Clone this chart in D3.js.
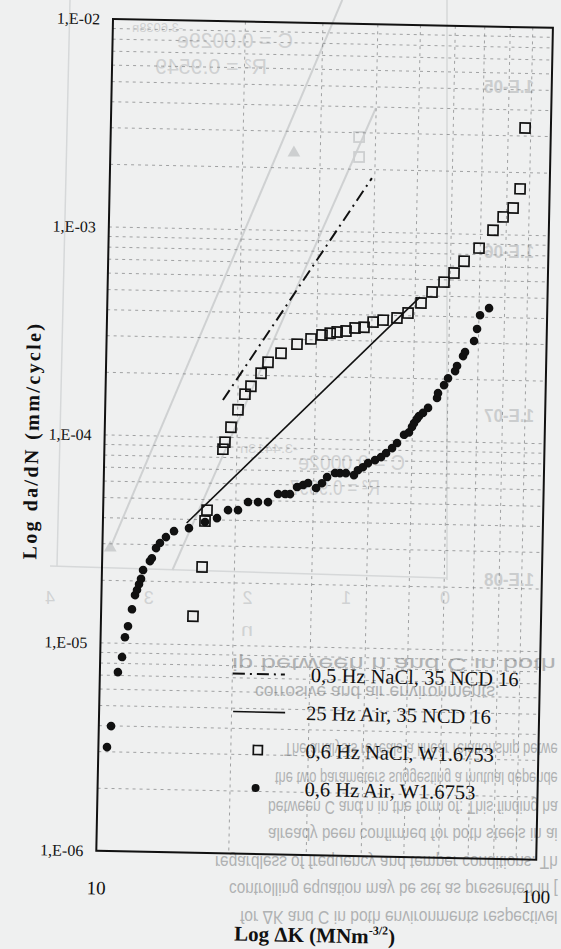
<!DOCTYPE html>
<html>
<head>
<meta charset="utf-8">
<script src="https://cdn.jsdelivr.net/npm/d3@7"></script>
<style>
  body { margin: 0; background: #eff0f0; }
  svg { display: block; }
</style>
</head>
<body>
<svg id="chart" width="561" height="949"></svg>
<script>
// 0,6 Hz NaCl, W1.6753 (open squares)
var naclK = [16.18,16.88,17.06,17.22,18.60,18.78,19.35,20.04,20.75,21.39,22.52,23.33,24.95,27.10,29.14,30.85,32.19,33.38,34.97,36.65,38.41,40.25,42.41,45.60,48.28,51.63,54.63,58.10,61.16,64.38,69.54,74.67,78.61,82.76,85.66,87.36];
var naclRate = [1.37e-5,2.37e-5,3.94e-5,4.45e-5,8.77e-5,9.48e-5,1.12e-4,1.36e-4,1.62e-4,1.77e-4,2.05e-4,2.32e-4,2.57e-4,2.85e-4,3.03e-4,3.17e-4,3.24e-4,3.29e-4,3.33e-4,3.45e-4,3.49e-4,3.70e-4,3.79e-4,3.89e-4,4.12e-4,4.62e-4,5.23e-4,5.85e-4,6.48e-4,7.41e-4,8.59e-4,1.05e-3,1.22e-3,1.35e-3,1.67e-3,3.28e-3];

// 0,6 Hz Air, W1.6753 (filled dots)
var airK = [10.46,10.66,10.99,11.21,11.36,11.53,11.75,11.92,12.04,12.16,12.28,12.40,12.84,12.97,13.24,13.51,13.93,14.52,15.70,17.06,18.16,19.22,20.25,21.32,22.46,23.67,24.93,25.86,26.54,27.51,28.38,29.13,30.39,31.34,32.16,33.51,34.40,35.48,37.01,37.77,38.76,39.79,41.26,42.56,43.68,45.05,46.21,47.89,49.14,49.89,50.40,51.17,51.69,52.77,54.15,56.70,56.97,58.74,59.94,62.14,62.75,64.68,65.33,68.41,69.41,70.40,73.75];
var airRate = [3.16e-6,3.99e-6,7.26e-6,8.59e-6,1.07e-5,1.21e-5,1.46e-5,1.71e-5,1.81e-5,1.93e-5,2.05e-5,2.26e-5,2.50e-5,2.58e-5,2.89e-5,3.06e-5,3.27e-5,3.50e-5,3.63e-5,3.90e-5,4.08e-5,4.47e-5,4.48e-5,4.91e-5,4.92e-5,4.93e-5,5.40e-5,5.41e-5,5.41e-5,5.86e-5,6.00e-5,6.14e-5,5.82e-5,6.15e-5,6.59e-5,6.90e-5,6.90e-5,6.91e-5,6.77e-5,7.16e-5,7.41e-5,7.76e-5,8.03e-5,8.32e-5,8.71e-5,9.21e-5,9.75e-5,1.07e-4,1.10e-4,1.17e-4,1.22e-4,1.28e-4,1.32e-4,1.37e-4,1.45e-4,1.62e-4,1.71e-4,1.87e-4,2.02e-4,2.19e-4,2.32e-4,2.59e-4,2.71e-4,3.07e-4,3.51e-4,4.09e-4,4.43e-4];

// 35 NCD 16 fitted lines (end points)
var ncdNaclK = [18.5, 39.4], ncdNaclRate = [1.51e-4, 1.82e-3];
var ncdAirK = [15.5, 51.3], ncdAirRate = [3.84e-5, 4.93e-4];

var yTicks = [1e-2, 1e-3, 1e-4, 1e-5, 1e-6];
var yTickLabels = ["1,E-02", "1,E-03", "1,E-04", "1,E-05", "1,E-06"];
var xTicks = [10, 100];
var xTickLabels = ["10", "100"];
var legendLabels = ["0,5 Hz NaCl, 35 NCD 16", "25 Hz Air, 35 NCD 16", "0,6 Hz NaCl, W1.6753", "0,6 Hz Air, W1.6753"];

// show-through from the other side of the scanned sheet
var ghostN = [4, 3, 2, 1, 0];
var ghostCTicks = [1e-5, 1e-6, 1e-7, 1e-8];
var ghostCLabels = ["1.E-05", "1.E-06", "1.E-07", "1.E-08"];
var ghostLineAN = [3.39, 1.04], ghostLineAC = [1.57e-8, 3.39e-5];
var ghostLineBN = [2.76, 0.70], ghostLineBC = [1.15e-8, 7.45e-6];
var ghostTriN = [3.39, 1.53], ghostTriC = [1.57e-8, 3.98e-6];
var ghostSqN = [0.87, 0.87], ghostSqC = [4.96e-6, 3.75e-6];
var ghostLines = [
  ["ip between n and C in both", 232, 556, 664],
  ["corrosive and air environments.", 255, 500, 693],
  ["The analysis reveals a linear relationship betwe", 284, 558, 750],
  ["the two parameters suggesting a mutual depende", 275, 558, 779],
  ["between C and n in the form of:  This finding ha", 268, 558, 807],
  ["already  been  confirmed  for  both  steels  in  ai", 268, 558, 835],
  ["regardless of frequency and temper conditions. Th", 215, 558, 863],
  ["controlling equation may be set as presented in [", 229, 558, 890],
  ["for ΔK and C in both environments respectivel", 240, 558, 918]
];

var W = 440, H = 832;
var serif = "'Liberation Serif', 'Times New Roman', serif";
var sans = "'Liberation Sans', Arial, sans-serif";

var svg = d3.select("#chart");
svg.append("rect").attr("width", 561).attr("height", 949).attr("fill", "#eff0f0");

// ---- ghost layer ----
var ghost = svg.append("g");
var gx = d3.scaleLinear().domain([4, 0]).range([50, 445]);
var gy = d3.scaleLog().domain([1e-8, 1e-5]).range([580, 87]);
var ghostGray = "#d6d8d9";

ghost.append("line").attr("x1", gx(4)).attr("x2", gx(0) + 2)
  .attr("y1", 566).attr("y2", 578).attr("stroke", ghostGray).attr("stroke-width", 1.5);
ghost.append("line").attr("x1", gx(0) + 2).attr("x2", gx(0) + 2)
  .attr("y1", 0).attr("y2", 580).attr("stroke", ghostGray).attr("stroke-width", 1.5);
ghost.append("line").attr("x1", 70).attr("x2", 57)
  .attr("y1", 0).attr("y2", 566).attr("stroke", ghostGray).attr("stroke-width", 1.5);

var gline = d3.line().x(d => gx(d[0])).y(d => gy(d[1]));
[[ghostLineAN, ghostLineAC], [ghostLineBN, ghostLineBC]].forEach(function(p) {
  ghost.append("path").attr("d", gline(d3.zip(p[0], p[1])))
    .attr("fill", "none").attr("stroke", "#cfd1d2").attr("stroke-width", 2);
});
ghost.selectAll(".gtri").data(d3.zip(ghostTriN, ghostTriC)).join("path")
  .attr("d", d3.symbol(d3.symbolTriangle, 70))
  .attr("transform", d => "translate(" + gx(d[0]) + "," + gy(d[1]) + ")")
  .attr("fill", "#cdcfd0");
ghost.selectAll(".gsq").data(d3.zip(ghostSqN, ghostSqC)).join("rect")
  .attr("x", d => gx(d[0]) - 5).attr("y", d => gy(d[1]) - 5)
  .attr("width", 10).attr("height", 10)
  .attr("fill", "none").attr("stroke", "#cdcfd0").attr("stroke-width", 1.8);

// squeeze a text into [x0, x1] with a transform, mirrored (left-right) or flipped (upside down)
function ghostText(str, x0, x1, yc, size, color, weight, flip) {
  var t = ghost.append("text").text(str)
    .attr("x", x0).attr("y", yc)
    .attr("dominant-baseline", "central")
    .attr("font-family", sans).attr("font-size", size)
    .attr("font-weight", weight || "normal").attr("fill", color);
  var k = (x1 - x0) / t.node().getComputedTextLength();
  if (flip) {
    t.attr("transform", "translate(" + x0 + "," + (2 * yc) + ") scale(" + k + ",-1) translate(" + (-x0) + ",0)");
  } else {
    t.attr("transform", "translate(" + x1 + ",0) scale(" + (-k) + ",1) translate(" + (-x0) + ",0)");
  }
}

ghostCTicks.forEach(function(c, i) {
  ghostText(ghostCLabels[i], 484, 534, gy(c), 19, "#cbcdce", "bold");
});
ghostN.forEach(function(n) {
  ghostText(String(n), gx(n) - 5, gx(n) + 5, 598, 18, "#d0d2d3");
});
ghostText("n", 241, 253, 630, 18, "#d0d2d3");
ghostText("C = 0.0029e", 177, 293, 40, 22, "#cfd1d2");
ghostText("-3.6038n", 132, 183, 28, 12, "#cfd1d2");
ghostText("R² = 0.9549", 155, 267, 66, 22, "#cfd1d2");
ghostText("C = 0.0002e", 298, 405, 462, 22, "#cfd1d2");
ghostText("-3.4413n", 240, 298, 449, 12, "#cfd1d2");
ghostText("R² = 0.9897", 290, 380, 487, 22, "#cfd1d2");

ghostLines.forEach(function(l) {
  ghostText(l[0], l[1], l[2], l[3], 19, "#b0b2b3", "normal", true);
});

// ---- main chart (scan is rotated slightly) ----
var g = svg.append("g").attr("transform", "translate(113,19) rotate(1.15)");
var x = d3.scaleLog().domain([10, 100]).range([0, W]);
var y = d3.scaleLog().domain([1e-6, 1e-2]).range([H, 0]);

var grid = g.append("g").attr("stroke", "#7d7f80").attr("stroke-width", 0.7)
  .attr("stroke-dasharray", "3,4");
grid.selectAll(".vx").data(x.ticks().filter(d => d > 10.5 && d < 99)).join("line")
  .attr("x1", d => x(d)).attr("x2", d => x(d)).attr("y1", 0).attr("y2", H);
grid.selectAll(".hy").data(y.ticks().filter(d => d > 1.05e-6 && d < 0.0099)).join("line")
  .attr("x1", 0).attr("x2", W).attr("y1", d => y(d)).attr("y2", d => y(d));

g.append("rect").attr("width", W).attr("height", H)
  .attr("fill", "none").attr("stroke", "#111").attr("stroke-width", 2);

var yAxis = g.append("g")
  .call(d3.axisLeft(y).tickValues(yTicks).tickFormat((d, i) => yTickLabels[i]).tickSize(0).tickPadding(13));
yAxis.select(".domain").remove();
yAxis.selectAll("text").attr("font-family", serif).attr("font-size", 16).attr("fill", "#111");

var xAxis = g.append("g").attr("transform", "translate(0," + H + ")")
  .call(d3.axisBottom(x).tickValues(xTicks).tickFormat((d, i) => xTickLabels[i]).tickSize(0).tickPadding(30));
xAxis.select(".domain").remove();
xAxis.selectAll("text").attr("font-family", serif).attr("font-size", 19).attr("fill", "#111");

g.append("text")
  .attr("transform", "translate(-73," + (H / 2 + 7) + ") rotate(-90)")
  .attr("text-anchor", "middle").attr("dominant-baseline", "central")
  .attr("font-family", serif).attr("font-weight", "bold").attr("font-size", 20)
  .attr("letter-spacing", 2.4).attr("fill", "#111")
  .text("Log da/dN (mm/cycle)");

var xt = g.append("text").attr("x", W / 2).attr("y", H + 87)
  .attr("text-anchor", "middle").attr("font-family", serif)
  .attr("font-weight", "bold").attr("font-size", 21).attr("fill", "#111");
xt.append("tspan").text("Log ΔK (MNm");
xt.append("tspan").attr("dy", -9).attr("font-size", 12).text("-3/2");
xt.append("tspan").attr("dy", 9).text(")");

var line = d3.line().x(d => x(d[0])).y(d => y(d[1]));
g.append("path").attr("d", line(d3.zip(ncdNaclK, ncdNaclRate)))
  .attr("fill", "none").attr("stroke", "#111").attr("stroke-width", 2)
  .attr("stroke-dasharray", "12,5,2,5");
g.append("path").attr("d", line(d3.zip(ncdAirK, ncdAirRate)))
  .attr("fill", "none").attr("stroke", "#111").attr("stroke-width", 1.6);

g.selectAll(".sq").data(d3.zip(naclK, naclRate)).join("rect")
  .attr("x", d => x(d[0]) - 5).attr("y", d => y(d[1]) - 5)
  .attr("width", 10).attr("height", 10)
  .attr("fill", "none").attr("stroke", "#111").attr("stroke-width", 1.7);

g.selectAll(".dot").data(d3.zip(airK, airRate)).join("circle")
  .attr("cx", d => x(d[0])).attr("cy", d => y(d[1])).attr("r", 4.3)
  .attr("fill", "#111");

// legend
var leg = g.append("g");
var rowY = [652, 690, 728, 766];
leg.append("line").attr("x1", 133).attr("x2", 185).attr("y1", rowY[0]).attr("y2", rowY[0])
  .attr("stroke", "#111").attr("stroke-width", 2).attr("stroke-dasharray", "12,5,2,5");
leg.append("line").attr("x1", 134).attr("x2", 186).attr("y1", rowY[1]).attr("y2", rowY[1])
  .attr("stroke", "#111").attr("stroke-width", 1.6);
leg.append("rect").attr("x", 155).attr("y", rowY[2] - 4.5).attr("width", 9).attr("height", 9)
  .attr("fill", "none").attr("stroke", "#111").attr("stroke-width", 1.7);
leg.append("circle").attr("cx", 158).attr("cy", rowY[3]).attr("r", 4).attr("fill", "#111");
leg.selectAll("text").data(legendLabels).join("text")
  .attr("x", (d, i) => i === 0 ? 211 : 207).attr("y", (d, i) => rowY[i])
  .attr("dominant-baseline", "central")
  .attr("font-family", serif).attr("font-size", 20.5).attr("fill", "#111")
  .text(d => d);
</script>
</body>
</html>
